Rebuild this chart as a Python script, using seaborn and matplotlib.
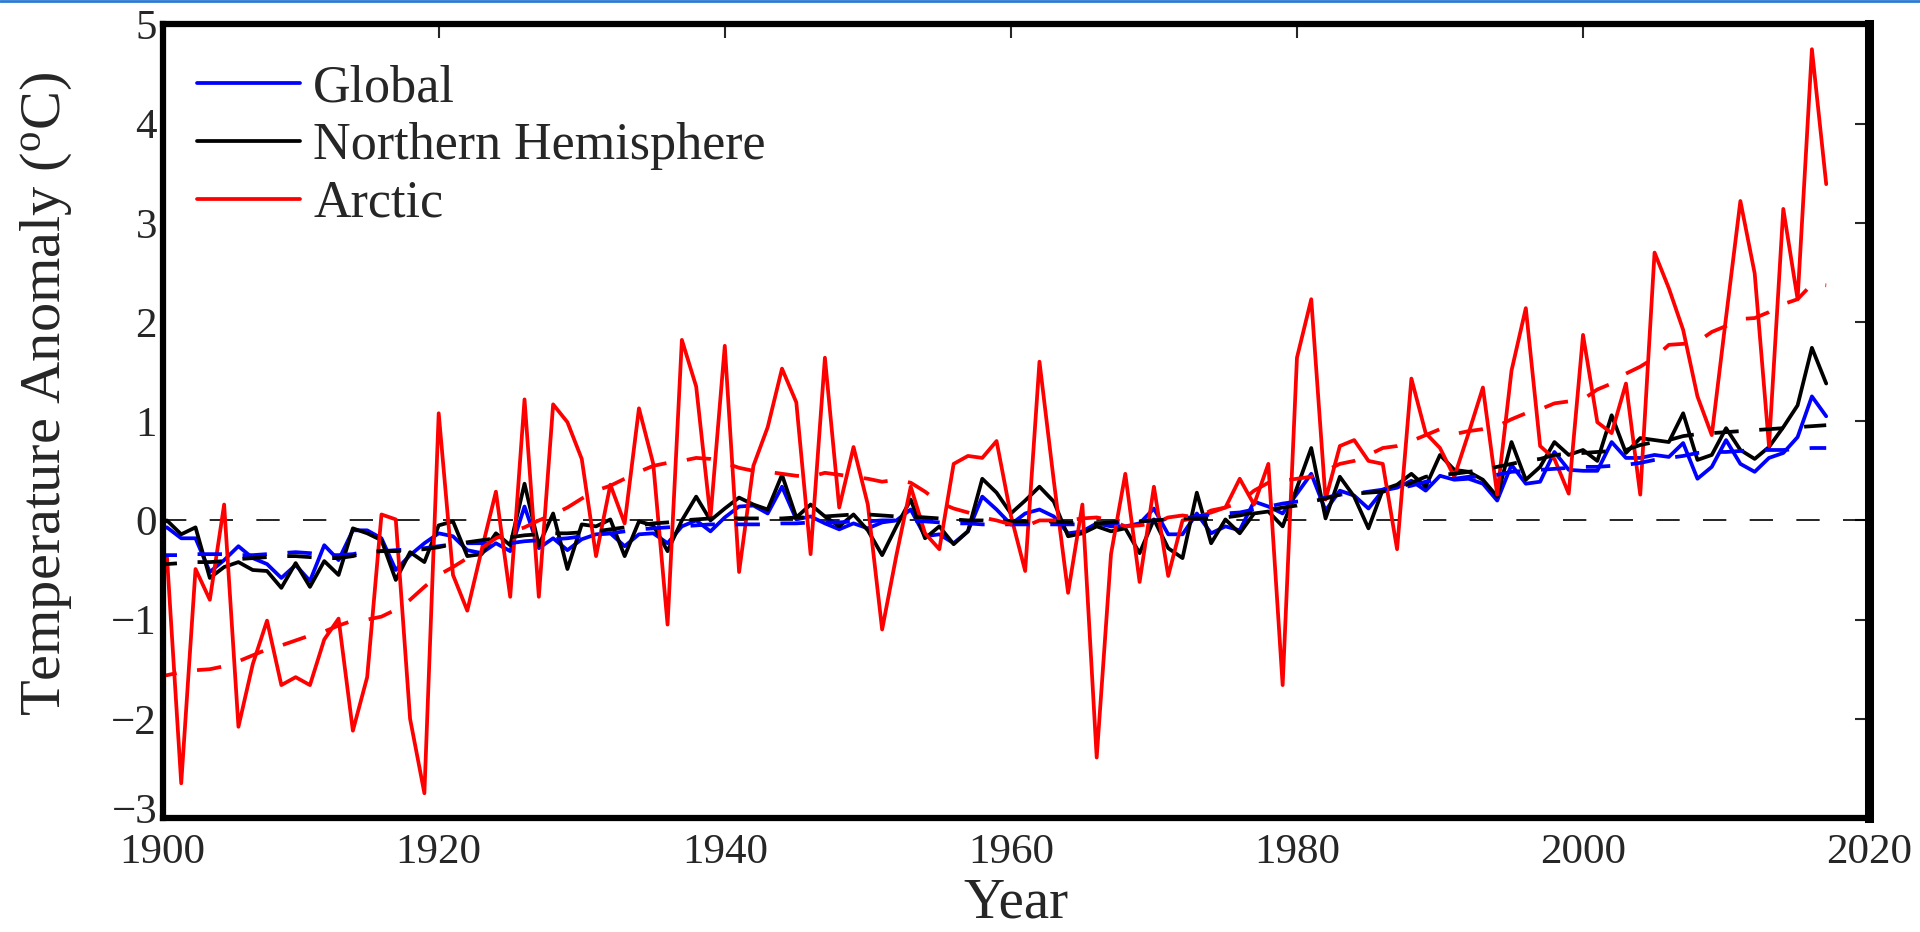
import numpy as np
import pandas as pd
import matplotlib
matplotlib.use("Agg")
import matplotlib.pyplot as plt
import matplotlib.transforms as mtransforms
import seaborn as sns
from matplotlib.lines import Line2D

# Years covered by the annual series
years = list(range(1900, 2018))

# Annual anomalies (degC)
global_anom = [
    -0.12, -0.07, -0.18, -0.18, -0.52, -0.40, -0.26, -0.38, -0.44, -0.58,
    -0.45, -0.61, -0.25, -0.40, -0.10, -0.10, -0.18, -0.50, -0.35, -0.23,
    -0.13, -0.16, -0.30, -0.33, -0.23, -0.31, 0.14, -0.28, -0.18, -0.30,
    -0.19, -0.14, -0.13, -0.26, -0.14, -0.13, -0.23, -0.06, 0.00, -0.11,
    0.03, 0.14, 0.15, 0.07, 0.34, 0.01, 0.04, -0.03, -0.09, -0.03,
    -0.08, -0.02, 0.00, 0.11, -0.16, -0.14, -0.23, -0.11, 0.24, 0.11,
    -0.04, 0.07, 0.11, 0.04, -0.13, -0.11, -0.03, -0.06, -0.06, -0.03,
    0.12, -0.14, -0.14, 0.07, -0.13, -0.06, -0.10, 0.19, 0.14, 0.07,
    0.27, 0.47, 0.10, 0.30, 0.25, 0.12, 0.30, 0.33, 0.40, 0.30,
    0.45, 0.41, 0.42, 0.37, 0.20, 0.56, 0.37, 0.39, 0.69, 0.51,
    0.50, 0.50, 0.79, 0.63, 0.63, 0.66, 0.64, 0.78, 0.42, 0.54,
    0.81, 0.57, 0.49, 0.63, 0.68, 0.84, 1.25, 1.05,
]
nh_anom = [
    -0.10, 0.00, -0.14, -0.07, -0.58, -0.47, -0.42, -0.50, -0.51, -0.68,
    -0.43, -0.67, -0.41, -0.55, -0.08, -0.13, -0.20, -0.60, -0.32, -0.42,
    -0.05, -0.01, -0.36, -0.34, -0.13, -0.25, 0.37, -0.25, 0.07, -0.49,
    -0.04, -0.06, 0.01, -0.36, -0.01, -0.05, -0.31, 0.00, 0.24, 0.00,
    0.12, 0.23, 0.16, 0.11, 0.46, 0.03, 0.16, 0.04, -0.06, 0.06,
    -0.10, -0.35, -0.06, 0.21, -0.18, -0.06, -0.24, -0.11, 0.42, 0.28,
    0.07, 0.20, 0.34, 0.19, -0.16, -0.13, -0.06, -0.11, -0.08, -0.33,
    0.01, -0.28, -0.38, 0.28, -0.23, 0.01, -0.13, 0.07, 0.09, -0.06,
    0.33, 0.73, 0.02, 0.44, 0.24, -0.08, 0.31, 0.36, 0.47, 0.34,
    0.66, 0.51, 0.49, 0.41, 0.24, 0.79, 0.41, 0.54, 0.79, 0.66,
    0.71, 0.60, 1.06, 0.68, 0.83, 0.81, 0.79, 1.08, 0.61, 0.66,
    0.93, 0.71, 0.62, 0.74, 0.94, 1.16, 1.74, 1.38,
]
arctic_anom = [
    -0.40, -0.36, -2.65, -0.49, -0.80, 0.16, -2.08, -1.45, -1.01, -1.66,
    -1.58, -1.66, -1.20, -0.99, -2.12, -1.58, 0.06, 0.01, -2.00, -2.75,
    1.08, -0.55, -0.91, -0.30, 0.29, -0.77, 1.22, -0.77, 1.17, 0.99,
    0.62, -0.36, 0.36, -0.03, 1.13, 0.57, -1.05, 1.82, 1.35, 0.03,
    1.76, -0.52, 0.55, 0.94, 1.53, 1.19, -0.34, 1.64, 0.13, 0.74,
    0.16, -1.10, -0.35, 0.34, -0.13, -0.29, 0.57, 0.65, 0.63, 0.80,
    0.05, -0.51, 1.60, 0.40, -0.73, 0.16, -2.39, -0.34, 0.47, -0.62,
    0.34, -0.56, 0.00, 0.03, 0.08, 0.13, 0.42, 0.16, 0.57, -1.66,
    1.64, 2.23, 0.21, 0.75, 0.81, 0.60, 0.57, -0.29, 1.43, 0.88,
    0.73, 0.44, 0.88, 1.34, 0.26, 1.51, 2.14, 0.75, 0.62, 0.27,
    1.87, 0.99, 0.88, 1.38, 0.26, 2.70, 2.34, 1.92, 1.25, 0.86,
    2.05, 3.22, 2.49, 0.75, 3.14, 2.23, 4.75, 3.39,
]

# Smoothed trend curves (dashed)
global_trend = [
    -0.35, -0.35, -0.35, -0.34, -0.34, -0.34, -0.35, -0.35, -0.34, -0.33,
    -0.32, -0.33, -0.35, -0.35, -0.34, -0.31, -0.31, -0.30, -0.29, -0.28,
    -0.26, -0.24, -0.23, -0.23, -0.23, -0.23, -0.21, -0.20, -0.19, -0.18,
    -0.16, -0.14, -0.13, -0.11, -0.09, -0.08, -0.07, -0.06, -0.05, -0.04,
    -0.04, -0.04, -0.04, -0.04, -0.03, -0.03, -0.02, -0.02, -0.02, -0.01,
    -0.01, 0.00, 0.00, 0.00, -0.01, -0.02, -0.03, -0.03, -0.04, -0.04,
    -0.04, -0.04, -0.04, -0.04, -0.04, -0.04, -0.03, -0.03, -0.02, -0.01,
    0.00, 0.01, 0.02, 0.04, 0.06, 0.07, 0.08, 0.11, 0.14, 0.17,
    0.19, 0.20, 0.23, 0.26, 0.27, 0.29, 0.31, 0.32, 0.35, 0.39,
    0.41, 0.42, 0.44, 0.44, 0.46, 0.49, 0.50, 0.51, 0.52, 0.53,
    0.54, 0.54, 0.55, 0.56, 0.58, 0.61, 0.63, 0.65, 0.68, 0.69,
    0.69, 0.70, 0.71, 0.71, 0.71, 0.72, 0.73, 0.73,
]
nh_trend = [
    -0.44, -0.44, -0.43, -0.42, -0.42, -0.41, -0.39, -0.38, -0.37, -0.36,
    -0.36, -0.37, -0.38, -0.38, -0.36, -0.32, -0.31, -0.31, -0.30, -0.29,
    -0.27, -0.24, -0.22, -0.20, -0.18, -0.17, -0.15, -0.14, -0.13, -0.13,
    -0.12, -0.11, -0.09, -0.07, -0.05, -0.03, -0.02, 0.00, 0.01, 0.02,
    0.03, 0.02, 0.02, 0.02, 0.02, 0.03, 0.03, 0.04, 0.05, 0.06,
    0.06, 0.05, 0.04, 0.04, 0.03, 0.02, 0.01, 0.00, 0.00, -0.01,
    -0.01, -0.01, -0.01, -0.01, -0.02, -0.03, -0.03, -0.02, -0.01, -0.01,
    0.00, 0.01, 0.02, 0.02, 0.02, 0.03, 0.05, 0.08, 0.10, 0.13,
    0.15, 0.19, 0.22, 0.26, 0.27, 0.28, 0.29, 0.32, 0.38, 0.44,
    0.46, 0.47, 0.49, 0.51, 0.54, 0.57, 0.60, 0.62, 0.66, 0.67,
    0.68, 0.69, 0.70, 0.71, 0.76, 0.79, 0.81, 0.85, 0.87, 0.88,
    0.89, 0.90, 0.91, 0.92, 0.93, 0.94, 0.95, 0.96,
]
arctic_trend = [
    -1.58, -1.56, -1.53, -1.51, -1.50, -1.47, -1.42, -1.36, -1.30, -1.26,
    -1.21, -1.16, -1.12, -1.06, -1.01, -1.00, -0.97, -0.90, -0.80, -0.67,
    -0.55, -0.47, -0.38, -0.28, -0.18, -0.12, -0.07, 0.00, 0.06, 0.13,
    0.22, 0.30, 0.35, 0.42, 0.49, 0.55, 0.58, 0.60, 0.63, 0.62,
    0.58, 0.53, 0.50, 0.49, 0.47, 0.45, 0.44, 0.48, 0.46, 0.44,
    0.42, 0.39, 0.41, 0.38, 0.29, 0.18, 0.12, 0.08, 0.03, 0.00,
    -0.04, -0.06, 0.00, 0.00, 0.00, 0.02, 0.03, 0.00, -0.06, -0.05,
    -0.03, 0.03, 0.05, 0.03, 0.10, 0.13, 0.18, 0.30, 0.38, 0.40,
    0.42, 0.44, 0.50, 0.57, 0.60, 0.66, 0.73, 0.75, 0.80, 0.86,
    0.92, 0.87, 0.90, 0.92, 0.95, 1.02, 1.08, 1.12, 1.18, 1.20,
    1.22, 1.32, 1.38, 1.48, 1.55, 1.64, 1.77, 1.78, 1.80, 1.90,
    1.96, 2.03, 2.04, 2.10, 2.18, 2.23, 2.38, 2.37,
]

labels = ["Global", "Northern Hemisphere", "Arctic"]
colors = ["#0000ff", "#000000", "#ff0000"]
x_ticks = [1900, 1920, 1940, 1960, 1980, 2000, 2020]
y_ticks = [-3, -2, -1, 0, 1, 2, 3, 4, 5]

df = pd.DataFrame({
    "Year": years,
    "Global": global_anom,
    "Northern Hemisphere": nh_anom,
    "Arctic": arctic_anom,
})
trend = pd.DataFrame({
    "Year": years,
    "Global": global_trend,
    "Northern Hemisphere": nh_trend,
    "Arctic": arctic_trend,
})

sns.set_theme(style="white")
plt.rcParams["font.family"] = ["Liberation Serif", "DejaVu Serif"]
plt.rcParams["mathtext.fontset"] = "custom"
plt.rcParams["mathtext.rm"] = "Liberation Serif"
plt.rcParams["axes.unicode_minus"] = True

fig = plt.figure(figsize=(19.2, 9.32), dpi=100)
# the frame starts a little after 1900 in the original figure
x_left = 1900.7
ax = fig.add_axes([0.0847, 0.1223, 0.8888, 0.8515])

lw = 2.7
for name, col in zip(labels, colors):
    sns.lineplot(data=df, x="Year", y=name, color=col, lw=lw, ax=ax, label=name)
for name, col in zip(labels, colors):
    sns.lineplot(data=trend, x="Year", y=name, color=col, lw=lw, ax=ax,
                 legend=False).lines[-1].set_dashes((6.5, 5.5))

ax.axhline(0, color="black", lw=1.2, dashes=(14, 14), zorder=1)

ax.set_xlim(x_left, 2020)
ax.set_ylim(-3, 5)
tick_pos = [x_left] + x_ticks[1:]
ax.set_xticks(tick_pos)
ax.set_xticklabels([str(t) for t in x_ticks])
ax.set_yticks(y_ticks)
ax.tick_params(axis="both", which="major", direction="in", length=10, width=1.5,
               labelsize=31, top=True, right=True)
ax.tick_params(axis="x", pad=11)
ax.tick_params(axis="y", pad=4)
for sp in ax.spines.values():
    sp.set_linewidth(4.5)
    sp.set_color("black")
ax.spines["right"].set_linewidth(6.5)

# nudge the lowest y label up a touch so it does not run into "1900"
lowest = ax.get_yticklabels()[0]
lowest.set_transform(lowest.get_transform() +
                     mtransforms.ScaledTranslation(0, 7 / 72, fig.dpi_scale_trans))

ax.set_xlabel("Year", fontsize=41, labelpad=4)
ax.set_ylabel("Temperature Anomaly ($\\rm{^o}$C)", fontsize=42)
ax.yaxis.set_label_coords(-0.052, 0.534)

leg = ax.legend(loc="upper left", bbox_to_anchor=(-0.0076, 1.009), frameon=False,
                fontsize=37.5, handlelength=1.98, handletextpad=0.26,
                labelspacing=0.19, borderaxespad=0.5)
for h in leg.get_lines():
    h.set_linewidth(lw)

# thin blue rule along the very top of the image
fig.add_artist(Line2D([0, 1], [0.999, 0.999], transform=fig.transFigure,
                      color="#2b7bd6", lw=2))

fig.savefig("out.png", dpi=100)
